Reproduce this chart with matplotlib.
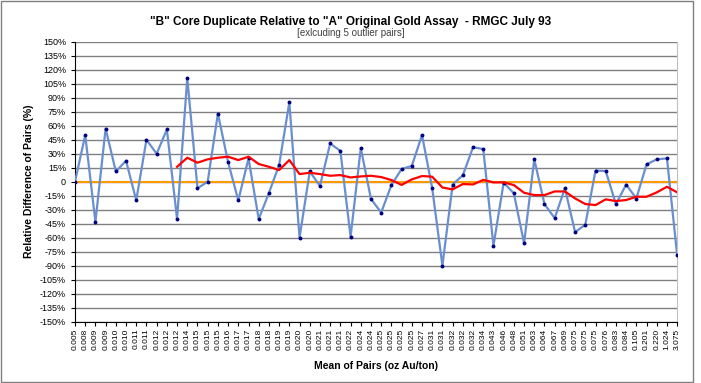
import numpy as np
import matplotlib
matplotlib.use("Agg")
import matplotlib.pyplot as plt
from matplotlib.ticker import FuncFormatter

plt.rcParams['font.family'] = ['Liberation Sans', 'DejaVu Sans']

# mean of pairs (oz Au/ton), category labels
mean_labels = ["0.005", "0.008", "0.009", "0.009", "0.010", "0.010", "0.011", "0.011", "0.012", "0.012",
               "0.012", "0.014", "0.015", "0.015", "0.015", "0.016", "0.017", "0.017", "0.018", "0.018",
               "0.019", "0.019", "0.020", "0.020", "0.021", "0.021", "0.021", "0.022", "0.024", "0.024",
               "0.025", "0.025", "0.025", "0.025", "0.027", "0.031", "0.031", "0.032", "0.032", "0.032",
               "0.034", "0.043", "0.046", "0.048", "0.051", "0.063", "0.064", "0.067", "0.069", "0.075",
               "0.075", "0.075", "0.076", "0.083", "0.084", "0.105", "0.201", "0.220", "1.024", "3.075"]

# relative difference of pairs (%)
rel_diff = [0, 50, -43, 57, 11, 22.5, -20, 45, 30, 56,
            -40, 111, -7, 0, 73, 21, -20, 25, -40, -12,
            18, 85, -60, 11, -4.6, 41, 33, -59, 36, -18.5,
            -33, -3.6, 13.6, 17, 50, -7, -90, -3, 7, 37,
            35, -68.6, -1, -12.5, -66, 24, -24, -39, -7, -54,
            -46, 12, 11.4, -24, -3, -18, 18.6, 24, 25, -78.6]

# moving average trend (starts at 11th pair)
trend_start = 10
trend = [16, 25.7, 20.4, 24, 25.7, 26.8, 23.2, 26.8, 19, 16,
         12.5, 23.2, 8.2, 9.6, 8.2, 6.4, 7.1, 4.6, 5.7, 6.4,
         5, 1.8, -3.4, 2.5, 6.1, 5.4, -6.2, -8.2, -2.5, -2.9,
         2, -0.7, -0.7, -3.6, -11.8, -14.3, -14.3, -10.4, -10.4, -17.9,
         -23.9, -25, -18.9, -20.7, -19.6, -16.1, -16.1, -11.4, -5.4, -11.4]

x = np.arange(len(mean_labels))
x_trend = np.arange(trend_start, trend_start + len(trend))

fig = plt.figure(figsize=(7.01, 3.83), dpi=100)
ax = fig.add_axes([0.107, 0.160, 0.859, 0.731])

for v in range(-150, 151, 15):
    ax.axhline(v, color="#808080", lw=1.0, zorder=1)
ax.axhline(0, color="#FF9900", lw=1.5, zorder=2)

ax.plot(x, rel_diff, color="#6A8FD0", lw=1.6, marker="o", ms=1.8,
        markerfacecolor="#000080", markeredgecolor="#000080", zorder=3)
ax.plot(x_trend, trend, color="#FF0000", lw=1.6, zorder=4)

ax.set_xlim(0, len(mean_labels) - 1)
ax.set_ylim(-150, 150)
ax.set_yticks(range(-150, 151, 15))
ax.yaxis.set_major_formatter(FuncFormatter(lambda v, p: "0" if v == 0 else f"{int(v)}%"))
ax.set_xticks(x)
ax.set_xticklabels(mean_labels, rotation=90, fontsize=6)
ax.tick_params(axis="y", labelsize=6.5, length=3, direction="out")
ax.tick_params(axis="x", length=3, direction="out", pad=2)

ax.spines["top"].set_visible(False)
ax.spines["right"].set_color("#C0C0C0")
ax.spines["left"].set_color("black")
ax.spines["bottom"].set_color("black")

ax.set_ylabel("Relative Difference of Pairs (%)", fontsize=7.5, fontweight="bold", labelpad=4)
ax.set_xlabel("Mean of Pairs (oz Au/ton)", fontsize=7.5, fontweight="bold", labelpad=8)

fig.text(0.5, 0.935, "\"B\" Core Duplicate Relative to \"A\" Original Gold Assay  - RMGC July 93",
         ha="center", fontsize=8.5, fontweight="bold")
fig.text(0.5, 0.905, "[exlcuding 5 outlier pairs]", ha="center", fontsize=7, color="#404040")

fig.patches.append(plt.Rectangle((0.002, 0.002), 0.986, 0.996, transform=fig.transFigure,
                                 fill=False, edgecolor="#808080", lw=1.0))

fig.savefig("out.png", dpi=100)
